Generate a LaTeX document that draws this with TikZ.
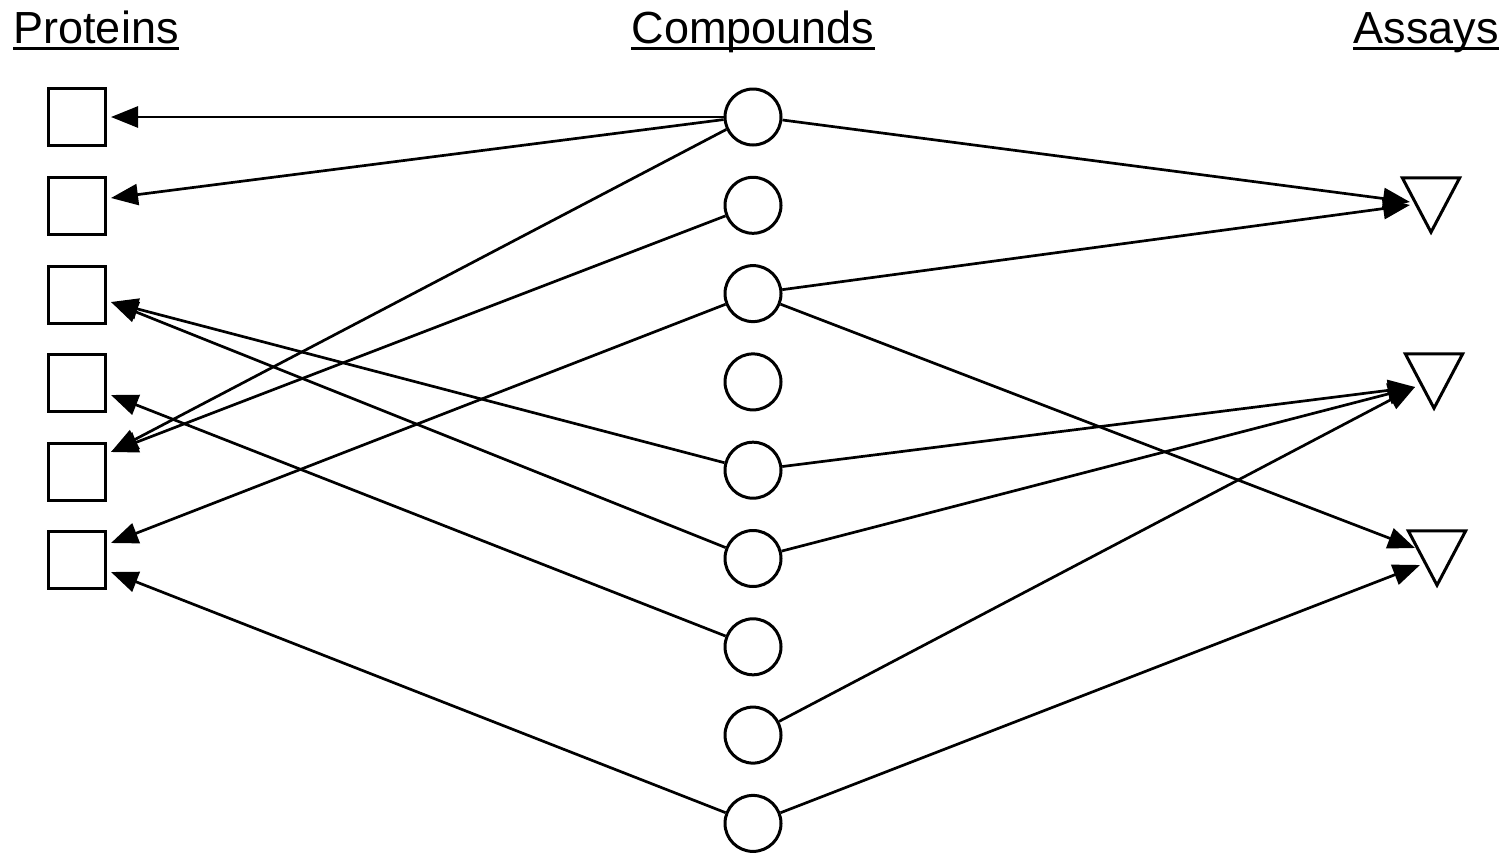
\documentclass[tikz,border=0pt]{standalone}
\usepackage{fontspec}
\setmainfont{Liberation Sans}
\usetikzlibrary{arrows.meta}
\begin{document}
\begin{tikzpicture}[x=1pt,y=-1pt,
  prot/.style={draw,line width=3pt,minimum size=57pt,inner sep=0pt,fill=white},
  comp/.style={draw,circle,line width=3pt,minimum size=56pt,inner sep=0pt},
  assay/.style={minimum width=57pt,minimum height=54pt,inner sep=0pt},
  tri/.style={line width=3pt,line join=miter},
  head/.style={font=\fontsize{45}{50}\selectfont,inner sep=0pt,anchor=base},
  link/.style={line width=2.7pt,-{Triangle[length=27pt,width=21pt]}}]
\useasboundingbox (0,0) rectangle (1510,852);
% headings
\node[head] (hp) at (96,43) {Proteins};
\node[head] (hc) at (753,43) {Compounds};
\node[head] (ha) at (1426,43) {Assays};
\foreach \n in {hp,hc,ha}{\draw[line width=3pt] ([yshift=-5pt]\n.base west) -- ([yshift=-5pt]\n.base east);}
% proteins
\foreach \i/\y in {1/117,2/206,3/295,4/383,5/472,6/560}{\node[prot] (p\i) at (77,\y) {};}
% compounds
\foreach \i in {1,...,9}{\node[comp] (c\i) at (753,{117+88.3*(\i-1)}) {};}
% assays
\node[assay] (a1) at (1431,205) {};
\node[assay] (a2) at (1434,381) {};
\node[assay] (a3) at (1437,558) {};
\foreach \n in {a1,a2,a3}{\draw[tri] (\n.north west) -- (\n.north east) -- (\n.south) -- cycle;}
% arrow tip coordinates
\coordinate (tp1) at (111,117);
\coordinate (tp2) at (111,198);
\coordinate (tp3) at (111,302);
\coordinate (tp4) at (111,395);
\coordinate (tp5) at (111,452);
\coordinate (tp6a) at (111,543);
\coordinate (tp6b) at (111,572);
\coordinate (ta1a) at (1410,202);
\coordinate (ta1b) at (1410,205);
\coordinate (ta2) at (1415,387);
\coordinate (ta3a) at (1415,548);
\coordinate (ta3b) at (1420,565);
% connectors
\draw[link] (c1) -- (tp1);
\draw[link] (c1.185) -- (tp2);
\draw[link] (c1.205) -- (tp5);
\draw[link] (c1.east) ++(0,3) coordinate (c1r) (c1r) -- (ta1a);
\draw[link] (c2) -- (tp5);
\draw[link] (c3) -- (ta1b);
\draw[link] (c3) -- (tp6a);
\draw[link] (c3) -- (ta3a);
\draw[link] (c5) -- (tp3);
\draw[link] (c5) -- (ta2);
\draw[link] (c6) -- (tp3);
\draw[link] (c6) -- (ta2);
\draw[link] (c7) -- (tp4);
\draw[link] (c8) -- (ta2);
\draw[link] (c9) -- (tp6b);
\draw[link] (c9) -- (ta3b);
\end{tikzpicture}
\end{document}
